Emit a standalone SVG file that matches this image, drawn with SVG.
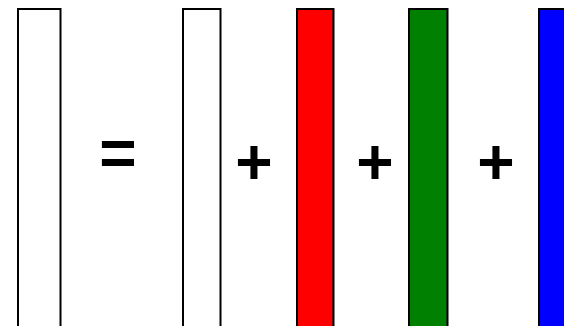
<svg xmlns="http://www.w3.org/2000/svg" width="564" height="326" viewBox="0 0 564 326">
<style>
.bar{stroke:#000;stroke-width:2}
.op{font-family:"Liberation Sans",Arial,sans-serif;font-weight:bold;font-size:64px;text-anchor:middle;fill:#000}
</style>
<rect width="564" height="326" fill="#fff"/>
<g id="result"><rect class="bar" x="18" y="9" width="42.5" height="340" fill="#fff"/></g>
<g id="eq"><text class="op" x="118" y="175">=</text></g>
<g id="white"><rect class="bar" x="183" y="9" width="37.5" height="340" fill="#fff"/></g>
<g id="plus1"><text class="op" x="254" y="184">+</text></g>
<g id="red"><rect class="bar" x="297" y="9" width="36.5" height="340" fill="#f00"/></g>
<g id="plus2"><text class="op" x="375" y="184">+</text></g>
<g id="green"><rect class="bar" x="409" y="9" width="38.5" height="340" fill="#008000"/></g>
<g id="plus3"><text class="op" x="496" y="184">+</text></g>
<g id="blue"><rect class="bar" x="539" y="9" width="40" height="340" fill="#00f"/></g>
</svg>
